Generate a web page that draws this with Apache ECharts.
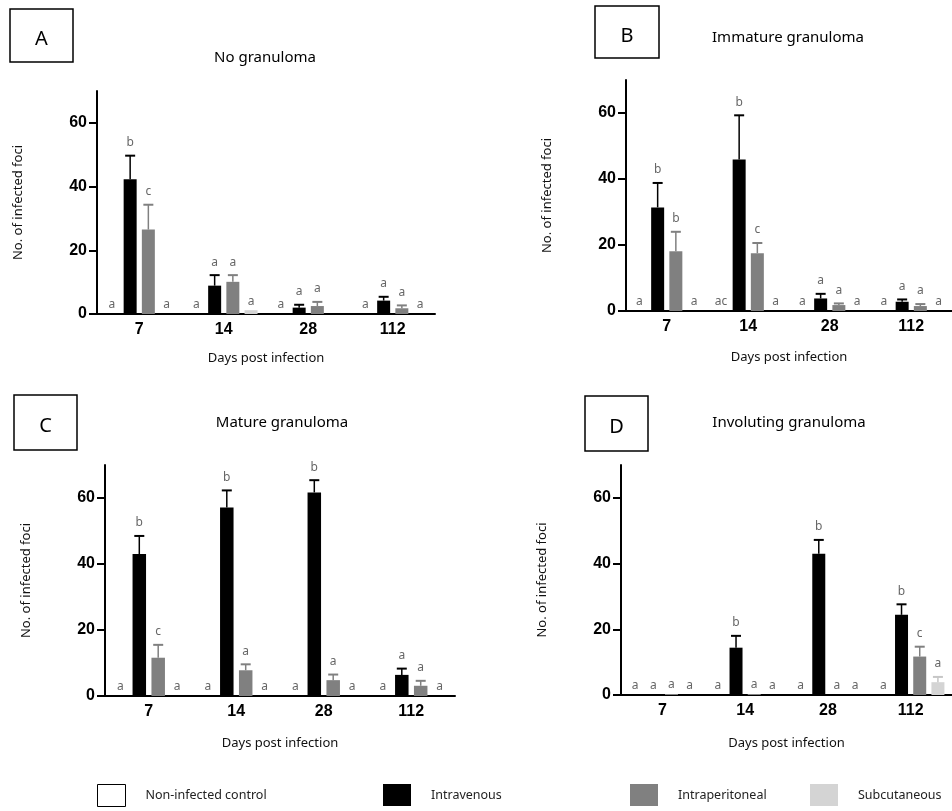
<!DOCTYPE html>
<html>
<head>
<meta charset="utf-8">
<script src="https://cdn.jsdelivr.net/npm/echarts@6/dist/echarts.min.js"></script>
<style>
  html, body { margin: 0; padding: 0; background: #fff; }
  #chart { width: 952px; height: 811px; }
</style>
</head>
<body>
<div id="chart"></div>
<script>
// categories and groups
const days = ['7', '14', '28', '112'];
const groups = ['Non-infected control', 'Intravenous', 'Intraperitoneal', 'Subcutaneous'];
const yTicks = [0, 20, 40, 60];

// rows: control, intravenous, intraperitoneal, subcutaneous
const noGranMean = [[0, 0, 0, 0], [42.3, 8.9, 2, 4.2], [26.5, 10.1, 2.5, 1.8], [0, 1.2, 0, 0]];
const noGranErr = [[0, 0, 0, 0], [7.4, 3.3, 0.9, 1.2], [7.8, 2.1, 1.3, 0.9], [0, 0, 0, 0]];
const noGranLetters = [['a', 'a', 'a', 'a'], ['b', 'a', 'a', 'a'], ['c', 'a', 'a', 'a'], ['a', 'a', '', 'a']];

const immatureMean = [[0, 0, 0, 0], [31.4, 45.9, 3.8, 2.8], [18.1, 17.5, 1.8, 1.5], [0, 0, 0, 0]];
const immatureErr = [[0, 0, 0, 0], [7.4, 13.4, 1.4, 0.7], [5.9, 3.1, 0.5, 0.6], [0, 0, 0, 0]];
const immatureLetters = [['a', 'ac', 'a', 'a'], ['b', 'b', 'a', 'a'], ['b', 'c', 'a', 'a'], ['a', 'a', 'a', 'a']];

const matureMean = [[0, 0, 0, 0], [43, 57.1, 61.7, 6.4], [11.6, 7.8, 4.8, 3.1], [0, 0, 0, 0]];
const matureErr = [[0, 0, 0, 0], [5.5, 5.2, 3.7, 1.9], [3.9, 1.8, 1.7, 1.5], [0, 0, 0, 0]];
const matureLetters = [['a', 'a', 'a', 'a'], ['b', 'b', 'b', 'a'], ['c', 'a', 'a', 'a'], ['a', 'a', 'a', 'a']];

const involutingMean = [[0, 0, 0, 0], [0, 14.4, 43, 24.4], [0.3, 0.3, 0, 11.7], [0, 0, 0, 3.9]];
const involutingErr = [[0, 0, 0, 0], [0, 3.6, 4.2, 3.2], [0, 0, 0, 3], [0, 0, 0, 1.6]];
const involutingLetters = [['a', 'a', 'a', 'a'], ['a', 'b', 'b', 'b'], ['a', 'a', 'a', 'c'], ['a', 'a', 'a', 'a']];

const barColors = ['#ffffff', '#000000', '#808080', '#d4d4d4'];
const errColors = ['#000000', '#000000', '#808080', '#c6c6c6'];

const panels = [
  { label: 'A', title: 'No granuloma', mean: noGranMean, err: noGranErr, letters: noGranLetters,
    grid: { left: 97, top: 91, width: 338, height: 223 }, box: [10, 9, 63, 53], titlePos: [265, 58], xNameGap: 38, barWidth: 13 },
  { label: 'B', title: 'Immature granuloma', mean: immatureMean, err: immatureErr, letters: immatureLetters,
    grid: { left: 626, top: 80, width: 334, height: 231 }, box: [595, 6, 64, 52], titlePos: [788, 38], xNameGap: 40, barWidth: 13 },
  { label: 'C', title: 'Mature granuloma', mean: matureMean, err: matureErr, letters: matureLetters,
    grid: { left: 105, top: 465, width: 350, height: 231 }, box: [14, 395, 63, 55], titlePos: [282, 423], xNameGap: 41, barWidth: 13.5 },
  { label: 'D', title: 'Involuting granuloma', mean: involutingMean, err: involutingErr, letters: involutingLetters,
    grid: { left: 621, top: 465, width: 337, height: 230 }, box: [585, 396, 63, 55], titlePos: [789, 423], xNameGap: 42, barWidth: 13 }
];

const nameFont = '"Noto Sans", sans-serif';
const tickFont = '"Liberation Sans", Arial, sans-serif';

const grids = [], xAxes = [], yAxes = [], series = [], graphics = [];

panels.forEach(function (p, i) {
  grids.push(Object.assign({ containLabel: false }, p.grid));

  xAxes.push({
    type: 'category', gridIndex: i, data: days,
    name: 'Days post infection', nameLocation: 'middle', nameGap: p.xNameGap,
    nameTextStyle: { fontFamily: nameFont, fontSize: 13, color: '#111' },
    axisLine: { lineStyle: { color: '#000', width: 2 } },
    axisTick: { alignWithLabel: true, length: 6, lineStyle: { color: '#000', width: 2 } },
    axisLabel: { fontFamily: tickFont, fontWeight: 'bold', fontSize: 16, color: '#000', margin: 8 },
    splitLine: { show: false }
  });

  yAxes.push({
    type: 'value', gridIndex: i, min: 0, max: 70, interval: 10,
    name: 'No. of infected foci', nameLocation: 'middle', nameGap: 72, nameRotate: 90,
    nameTextStyle: { fontFamily: nameFont, fontSize: 13, color: '#111' },
    axisLine: { show: true, lineStyle: { color: '#000', width: 2 } },
    axisTick: { show: true, length: 8, customValues: yTicks, lineStyle: { color: '#000', width: 2 } },
    axisLabel: { customValues: yTicks, fontFamily: tickFont, fontWeight: 'bold', fontSize: 16, color: '#000', margin: 10 },
    splitLine: { show: false }
  });

  groups.forEach(function (g, gi) {
    series.push({
      type: 'bar', name: g, xAxisIndex: i, yAxisIndex: i,
      data: p.mean[gi], barWidth: p.barWidth, barGap: '40%',
      itemStyle: { color: barColors[gi] },
      emphasis: { disabled: true }
    });
  });

  const errData = [];
  groups.forEach(function (g, gi) {
    days.forEach(function (d, di) {
      errData.push([di, gi, p.mean[gi][di], p.err[gi][di]]);
    });
  });

  series.push({
    type: 'custom', xAxisIndex: i, yAxisIndex: i, data: errData,
    encode: { x: 0, y: 2 }, z: 5, silent: true,
    renderItem: function (params, api) {
      const c = api.value(0), gi = api.value(1), m = api.value(2), e = api.value(3);
      const x = api.coord([c, 0])[0] + (gi - 1.5) * p.barWidth * 1.4;
      const yTop = api.coord([c, m])[1];
      const yErr = api.coord([c, m + e])[1];
      const children = [];
      if (e > 0) {
        children.push({ type: 'line', shape: { x1: x, y1: yTop, x2: x, y2: yErr },
          style: { stroke: errColors[gi], lineWidth: 1.5 } });
        children.push({ type: 'line', shape: { x1: x - 5, y1: yErr, x2: x + 5, y2: yErr },
          style: { stroke: errColors[gi], lineWidth: 2 } });
      }
      const letter = p.letters[gi][c];
      if (letter) {
        children.push({ type: 'text', x: x, y: yErr - (e > 0 ? 7 : 3),
          style: { text: letter, fill: '#666', fontSize: 12, fontFamily: nameFont,
            align: 'center', verticalAlign: 'bottom', textAlign: 'center', textVerticalAlign: 'bottom' } });
      }
      return { type: 'group', children: children };
    }
  });

  graphics.push({
    type: 'rect', shape: { x: p.box[0], y: p.box[1], width: p.box[2], height: p.box[3] },
    style: { fill: 'none', stroke: '#000', lineWidth: 1.5 }
  });
  graphics.push({
    type: 'text', x: p.box[0] + p.box[2] / 2, y: p.box[1] + p.box[3] / 2 + 4,
    style: { text: p.label, fill: '#000', fontSize: 20, fontFamily: nameFont,
      align: 'center', verticalAlign: 'middle', textAlign: 'center', textVerticalAlign: 'middle' }
  });
  graphics.push({
    type: 'text', x: p.titlePos[0], y: p.titlePos[1],
    style: { text: p.title, fill: '#000', fontSize: 15, fontFamily: nameFont,
      align: 'center', verticalAlign: 'middle', textAlign: 'center', textVerticalAlign: 'middle' }
  });
});

const legendLeft = [97, 383, 630, 810];
const legends = groups.map(function (g, gi) {
  return {
    left: legendLeft[gi], top: 784, padding: 0, icon: 'rect',
    itemWidth: 28, itemHeight: 22, selectedMode: false,
    data: [{ name: g, itemStyle: gi === 0 ? { color: '#fff', borderColor: '#000', borderWidth: 1 } : { color: barColors[gi] } }],
    textStyle: { fontFamily: nameFont, fontSize: 12.5, color: '#222', padding: [0, 0, 0, 15] }
  };
});

const option = {
  animation: false,
  backgroundColor: '#fff',
  grid: grids,
  xAxis: xAxes,
  yAxis: yAxes,
  legend: legends,
  graphic: { elements: graphics },
  series: series
};

const chart = echarts.init(document.getElementById('chart'));
chart.setOption(option);
</script>
</body>
</html>
